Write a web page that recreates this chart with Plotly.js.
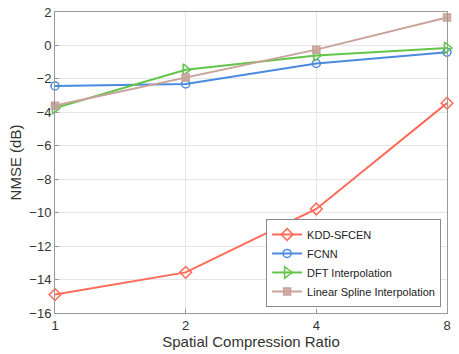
<!DOCTYPE html>
<html><head><meta charset="utf-8">
<script src="https://cdn.plot.ly/plotly-3.0.1.min.js"></script>
<style>html,body{margin:0;padding:0;background:#fff;}#chart{width:459px;height:354px;}</style>
</head><body><div id="chart"></div>
<script>
const ratios = [1, 2, 4, 8];
const tickLabels = ['1', '2', '4', '8'];
const kddSfcen = [-14.9, -13.57, -9.78, -3.45];
const fcnn = [-2.42, -2.3, -1.08, -0.4];
const dftInterp = [-3.75, -1.45, -0.6, -0.15];
const linearSpline = [-3.6, -1.92, -0.25, 1.67];

const names = ['KDD-SFCEN', 'FCNN', 'DFT Interpolation', 'Linear Spline Interpolation'];
const series = [kddSfcen, fcnn, dftInterp, linearSpline];
const colors = ['#FF6B5B', '#4A8BDF', '#62C449', '#C9A29A'];
const symbols = ['diamond-open', 'circle-open', 'triangle-right-open', 'square'];
const sizes = [9, 8, 10, 7];

const traces = series.map((y, i) => ({
  x: ratios, y: y, name: names[i], type: 'scatter', mode: 'lines+markers',
  line: {color: colors[i], width: 2},
  marker: {symbol: symbols[i], size: sizes[i], color: i === 3 ? 'rgba(201,162,154,0.85)' : colors[i],
           line: {color: colors[i], width: 1.5}},
  cliponaxis: false
}));

const axisCommon = {
  showline: true, mirror: true, linecolor: '#9a9a9a', linewidth: 1,
  gridcolor: '#e6e6e6', gridwidth: 1, zeroline: false,
  ticks: 'inside', ticklen: 4, tickcolor: '#9a9a9a',
  tickfont: {size: 13, color: '#333', family: 'Liberation Sans, Arial, sans-serif'}
};

const layout = {
  width: 459, height: 354,
  margin: {l: 55, r: 12, t: 12, b: 41},
  paper_bgcolor: '#fff', plot_bgcolor: '#fff',
  font: {family: 'Liberation Sans, Arial, sans-serif', color: '#333'},
  showlegend: true,
  xaxis: Object.assign({}, axisCommon, {
    type: 'log', range: [0, Math.log10(8)],
    tickvals: ratios, ticktext: tickLabels,
    title: {text: 'Spatial Compression Ratio', font: {size: 15, color: '#333'}, standoff: 4}
  }),
  yaxis: Object.assign({}, axisCommon, {
    range: [-16, 2], dtick: 2,
    title: {text: 'NMSE (dB)', font: {size: 15, color: '#333'}, standoff: 4}
  }),
  legend: {
    x: 0.985, y: 0.02, xanchor: 'right', yanchor: 'bottom',
    bgcolor: '#fff', bordercolor: '#8a8a8a', borderwidth: 1,
    font: {size: 11, color: '#222'}, tracegroupgap: 0, itemwidth: 30
  }
};

Plotly.newPlot('chart', traces, layout, {displayModeBar: false, staticPlot: true});
</script></body></html>
